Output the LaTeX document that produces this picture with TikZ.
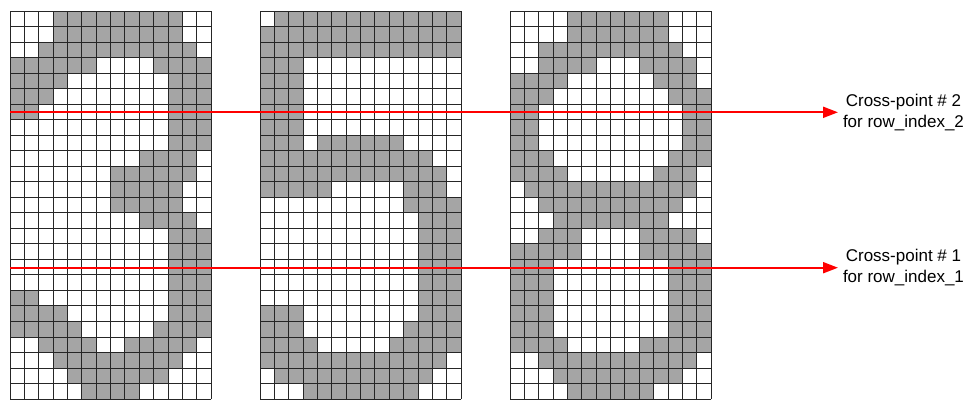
\documentclass[tikz,border=0pt]{standalone}
\usepackage{fontspec}
\setmainfont{Liberation Sans}
\usepackage{xstring}
\usetikzlibrary{arrows.meta}
\definecolor{cellgray}{RGB}{165,165,165}
\definecolor{arrowred}{RGB}{255,0,0}
\newcommand\cellw{14.357}
\newcommand\cellh{15.52}
\newcommand\digitgrid[2]{%
  \foreach \rowstr [count=\rr from 0] in {#2} {%
    \foreach \kk in {1,...,14} {%
      \StrChar{\rowstr}{\kk}[\cellbit]%
      \ifnum\cellbit=1\relax
        \fill[cellfill] ({#1+(\kk-1)*\cellw},{11+\rr*\cellh}) rectangle ++(\cellw,\cellh);
      \fi
    }%
  }%
  \foreach \ii in {0,...,14} {\draw[cellline] ({#1+\ii*\cellw},11) -- ({#1+\ii*\cellw},{11+25*\cellh});}%
  \foreach \jj in {0,...,25} {\draw[cellline] (#1,{11+\jj*\cellh}) -- ({#1+14*\cellw},{11+\jj*\cellh});}%
}
\begin{document}
\begin{tikzpicture}[x=1pt,y=-1pt,
  cellfill/.style={fill=cellgray},
  cellline/.style={draw=black!85,line width=0.8pt},
  redarrow/.style={draw=arrowred,line width=2pt,-{Triangle[length=15pt,width=11pt]}},
  lbl/.style={align=center,font=\fontsize{17}{21}\selectfont,inner sep=0pt,outer sep=5pt,anchor=west}]
\useasboundingbox (0,0) rectangle (968,399);
\digitgrid{10}{00011111111100,00011111111100,00111111111110,11111100001111,11110000000111,11100000000111,11000000000111,00000000000111,00000000000111,00000000011110,00000001111110,00000001111100,00000001111100,00000000011110,00000000000111,00000000000111,00000000000111,00000000000111,11000000000111,11110000000111,11111000001111,00111100111110,00011111111100,00001111111000,00000111100000}
\digitgrid{260}{01111111111111,11111111111111,11111111111111,11100000000000,11100000000000,11100000000000,11100000000000,11100000000000,11101111110000,11111111111100,11111111111110,11111000001110,00000000001111,00000000000111,00000000000111,00000000000111,00000000000111,00000000000111,00000000000111,11100000000111,11100000001111,11110000011111,11111111111110,01111111111100,00011111111000}
\digitgrid{510}{00001111111000,00001111111000,00111111111100,00111100011110,11110000001110,11100000000111,11000000000011,11000000000011,11000000000011,11100000000111,11110000001110,01111111111110,00111111111100,00011111111000,00111000011110,11111000011111,11100000000111,11100000000111,11100000000111,11100000000111,11100000000111,11110000011111,00111111111110,00011111111100,00001111110000}
\coordinate (s2) at (10,112.3);
\coordinate (s1) at (10,267.7);
\node[lbl] (l2) at (838,112.3) {Cross-point \# 2\\for row\_index\_2};
\node[lbl] (l1) at (838,267.7) {Cross-point \# 1\\for row\_index\_1};
\draw[redarrow] (s2) -- (l2.west);
\draw[redarrow] (s1) -- (l1.west);
\end{tikzpicture}
\end{document}
